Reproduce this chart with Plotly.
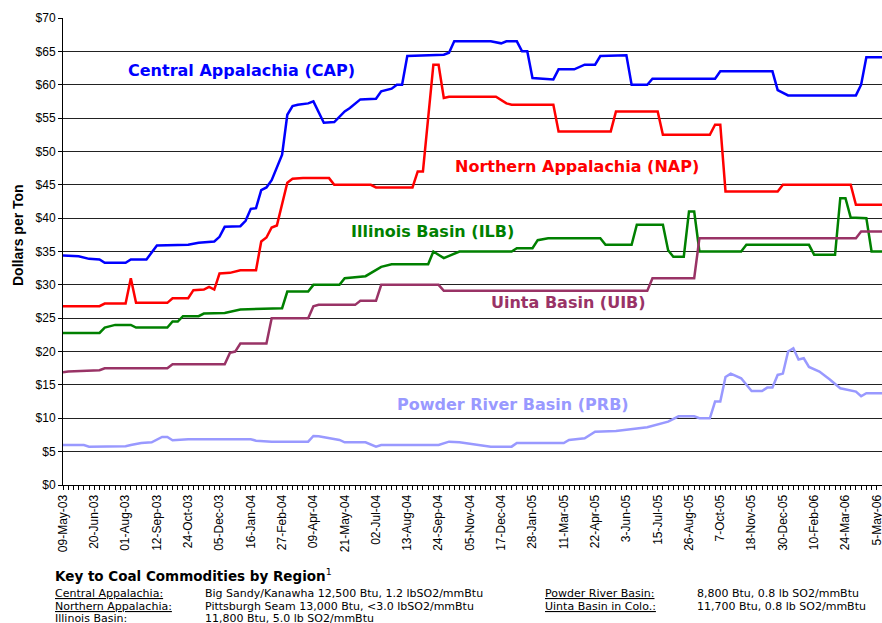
import plotly.graph_objects as go

# ---- tick labels (every 6 weeks, week index 0 = 09-May-03) ----
tick_weeks = list(range(0, 157, 6))
tick_labels = ["09-May-03", "20-Jun-03", "01-Aug-03", "12-Sep-03", "24-Oct-03", "05-Dec-03",
               "16-Jan-04", "27-Feb-04", "09-Apr-04", "21-May-04", "02-Jul-04", "13-Aug-04",
               "24-Sep-04", "05-Nov-04", "17-Dec-04", "28-Jan-05", "11-Mar-05", "22-Apr-05",
               "3-Jun-05", "15-Jul-05", "26-Aug-05", "7-Oct-05", "18-Nov-05", "30-Dec-05",
               "10-Feb-06", "24-Mar-06", "5-May-06"]

# ---- Central Appalachia (CAP) ----
cap_weeks = [0, 3, 5, 7, 8, 12, 13, 16, 18, 24, 26, 29, 30, 31, 34, 35, 36, 37, 38, 39, 40, 41, 42,
             43, 44, 45, 47, 48, 50, 52, 54, 55, 57, 60, 61, 63, 64, 65, 66, 73, 74, 75, 82, 84, 85,
             87, 88, 89, 90, 94, 95, 98, 100, 102, 103, 108, 109, 112, 113, 125, 126, 136, 137, 139,
             152, 153, 154, 157]
cap_vals = [34.4, 34.3, 33.9, 33.8, 33.3, 33.3, 33.8, 33.8, 35.9, 36.0, 36.3, 36.5, 37.2, 38.7, 38.8,
            39.6, 41.4, 41.5, 44.2, 44.6, 45.7, 47.5, 49.5, 55.5, 56.8, 57.0, 57.2, 57.5, 54.3, 54.4,
            56.0, 56.5, 57.8, 57.9, 59.0, 59.4, 60.0, 60.0, 64.3, 64.5, 64.8, 66.5, 66.5, 66.2, 66.5,
            66.5, 65.0, 65.0, 61.0, 60.8, 62.3, 62.3, 63.0, 63.0, 64.3, 64.4, 60.0, 60.0, 60.9, 60.9,
            62.0, 62.0, 59.2, 58.4, 58.4, 60.0, 64.1, 64.1]

# ---- Northern Appalachia (NAP) ----
nap_weeks = [0, 7, 8, 12, 13, 14, 20, 21, 24, 25, 27, 28, 29, 30, 32, 34, 37, 38, 39, 40, 41, 42, 43,
             44, 46, 51, 52, 59, 60, 67, 68, 69, 70, 71, 72, 73, 74, 83, 85, 86, 94, 95, 105, 106,
             114, 115, 124, 125, 126, 127, 137, 138, 151, 152, 157]
nap_vals = [26.8, 26.8, 27.2, 27.2, 31.0, 27.3, 27.3, 28.0, 28.0, 29.2, 29.3, 29.7, 29.3, 31.7, 31.8,
            32.2, 32.2, 36.5, 37.1, 38.6, 38.9, 42.3, 45.3, 45.9, 46.0, 46.0, 45.0, 45.0, 44.6, 44.6,
            47.0, 47.0, 55.5, 63.0, 63.0, 58.0, 58.2, 58.2, 57.2, 57.0, 57.0, 53.0, 53.0, 56.0, 56.0,
            52.5, 52.5, 54.0, 54.0, 44.0, 44.0, 45.0, 45.0, 42.0, 42.0]

# ---- Illinois Basin (ILB) ----
ilb_weeks = [0, 7, 8, 10, 13, 14, 20, 21, 22, 23, 26, 27, 31, 33, 34, 42, 43, 47, 48, 53, 54, 58, 61,
             63, 70, 71, 73, 76, 86, 87, 90, 91, 93, 103, 104, 109, 110, 115, 116, 117, 119, 120, 121,
             122, 130, 131, 143, 144, 148, 149, 150, 151, 154, 155, 157]
ilb_vals = [22.8, 22.8, 23.6, 24.0, 24.0, 23.6, 23.6, 24.5, 24.5, 25.3, 25.3, 25.7, 25.8, 26.1, 26.3,
            26.5, 29.0, 29.0, 30.0, 30.0, 31.0, 31.3, 32.7, 33.1, 33.1, 35.0, 34.0, 35.0, 35.0, 35.5,
            35.5, 36.7, 37.0, 37.0, 36.0, 36.0, 39.0, 39.0, 35.2, 34.2, 34.2, 41.0, 41.0, 35.0, 35.0,
            36.0, 36.0, 34.5, 34.5, 43.0, 43.0, 40.1, 40.0, 35.0, 35.0]

# ---- Uinta Basin (UIB) ----
uib_weeks = [0, 1, 7, 8, 20, 21, 31, 32, 33, 34, 39, 40, 47, 48, 49, 56, 57, 60, 61, 72, 73, 112, 113,
             121, 122, 152, 153, 157]
uib_vals = [16.9, 17.0, 17.2, 17.5, 17.5, 18.1, 18.1, 19.8, 20.0, 21.2, 21.2, 25.0, 25.0, 26.8, 27.0,
            27.0, 27.6, 27.6, 30.0, 30.0, 29.1, 29.1, 31.0, 31.0, 37.0, 37.0, 38.0, 38.0]

# ---- Powder River Basin (PRB) ----
prb_weeks = [0, 4, 5, 12, 13, 15, 17, 19, 20, 21, 24, 36, 37, 39, 40, 47, 48, 49, 52, 53, 54, 58, 60,
             61, 72, 74, 76, 80, 82, 86, 87, 96, 97, 100, 102, 106, 112, 116, 118, 121, 122, 124, 125,
             126, 127, 128, 130, 132, 134, 135, 136, 137, 138, 139, 140, 141, 142, 143, 145, 147, 149,
             152, 153, 154, 157]
prb_vals = [6.0, 6.0, 5.75, 5.8, 6.0, 6.3, 6.4, 7.2, 7.2, 6.7, 6.85, 6.85, 6.65, 6.6, 6.5, 6.5, 7.35,
            7.3, 6.9, 6.75, 6.4, 6.4, 5.75, 6.0, 6.0, 6.5, 6.4, 6.0, 5.75, 5.75, 6.3, 6.3, 6.75, 7.0,
            8.0, 8.1, 8.65, 9.5, 10.3, 10.3, 10.0, 10.0, 12.5, 12.5, 16.2, 16.7, 16.0, 14.1, 14.1, 14.6,
            14.6, 16.5, 16.7, 20.0, 20.5, 18.8, 19.0, 17.7, 17.0, 15.8, 14.5, 14.0, 13.3, 13.75, 13.75]

series = [
    ("Central Appalachia (CAP)", cap_weeks, cap_vals, "#0000FF", 34.2, 62.2),
    ("Northern Appalachia (NAP)", nap_weeks, nap_vals, "#FF0000", 98.5, 47.8),
    ("Illinois Basin (ILB)", ilb_weeks, ilb_vals, "#008000", 70.9, 38.0),
    ("Uinta Basin (UIB)", uib_weeks, uib_vals, "#993366", 96.9, 27.3),
    ("Powder River Basin (PRB)", prb_weeks, prb_vals, "#9999FF", 86.2, 12.0),
]

W, H = 882, 623

fig = go.Figure()
for name, xs, ys, col, lx, ly in series:
    fig.add_trace(go.Scatter(x=xs, y=ys, mode="lines", name=name,
                             line=dict(color=col, width=2.5), hoverinfo="skip"))
    fig.add_annotation(x=lx, y=ly, xref="x", yref="y", text="<b>%s</b>" % name, showarrow=False,
                       xanchor="center", yanchor="middle",
                       font=dict(family="DejaVu Sans", size=16, color=col))

tickfont = dict(family="Liberation Sans, Arial", size=12, color="black")

fig.update_layout(
    width=W, height=H,
    margin=dict(l=0, r=0, t=0, b=0),
    paper_bgcolor="white", plot_bgcolor="white",
    showlegend=False,
    xaxis=dict(domain=[63.0 / W, 1.0],
               range=[0, 157], tickmode="array", tickvals=tick_weeks, ticktext=tick_labels,
               tickangle=-90, tickfont=tickfont, showgrid=False, zeroline=False,
               showline=True, linecolor="black", linewidth=1, ticklabeloverflow="allow",
               ticks="outside", ticklen=4, tickcolor="black", automargin=False,
               minor=dict(tickmode="linear", tick0=0, dtick=1, ticks="outside", ticklen=4,
                          tickcolor="black", showgrid=False)),
    yaxis=dict(domain=[(H - 485.0) / H, (H - 18.0) / H],
               range=[0, 70], dtick=5, tickprefix="$", tickfont=tickfont,
               showgrid=True, gridcolor="#222222", gridwidth=1, zeroline=False,
               showline=True, linecolor="black", linewidth=1, ticklabeloverflow="allow",
               ticks="outside", ticklen=4, tickcolor="black", automargin=False),
)

def px_x(p):
    return p / float(W)

def px_y(p):
    return (H - p) / float(H)

# y-axis title
fig.add_annotation(x=px_x(18), y=px_y(235), xref="paper", yref="paper", text="<b>Dollars per Ton</b>",
                   textangle=-90, showarrow=False, xanchor="center", yanchor="middle",
                   font=dict(family="Liberation Sans, Arial", size=14, color="black"))

# key beneath the chart
fig.add_annotation(x=px_x(53), y=px_y(575), xref="paper", yref="paper",
                   text="<b>Key to Coal Commodities by Region</b><sup>1</sup>", showarrow=False,
                   xanchor="left", yanchor="middle",
                   font=dict(family="DejaVu Sans", size=13.5, color="black"))

key_rows = [
    ("Central Appalachia:", "Big Sandy/Kanawha 12,500 Btu, 1.2 lbSO2/mmBtu",
     "Powder River Basin:", "8,800 Btu, 0.8 lb SO2/mmBtu"),
    ("Northern Appalachia:", "Pittsburgh Seam 13,000 Btu, <3.0 lbSO2/mmBtu",
     "Uinta Basin in Colo.:", "11,700 Btu, 0.8 lb SO2/mmBtu"),
    ("Illinois Basin:", "11,800 Btu, 5.0 lb SO2/mmBtu", "", ""),
]
row_y = [593, 606, 618]
col_x = [53, 203, 543, 695]
keyfont = dict(family="DejaVu Sans", size=11, color="black")
for (a, b, c, d), ry in zip(key_rows, row_y):
    for txt, cx, ul in ((a, col_x[0], True), (b, col_x[1], False), (c, col_x[2], True), (d, col_x[3], False)):
        if not txt:
            continue
        t = txt.replace("<", "&lt;")
        if ul:
            t = "<u>%s</u>" % t
        fig.add_annotation(x=px_x(cx), y=px_y(ry), xref="paper", yref="paper", text=t,
                           showarrow=False, xanchor="left", yanchor="middle", font=keyfont)

fig.write_html("out.html", config={"displayModeBar": False},
               post_script="document.body.style.margin='0';document.body.style.padding='0';")
